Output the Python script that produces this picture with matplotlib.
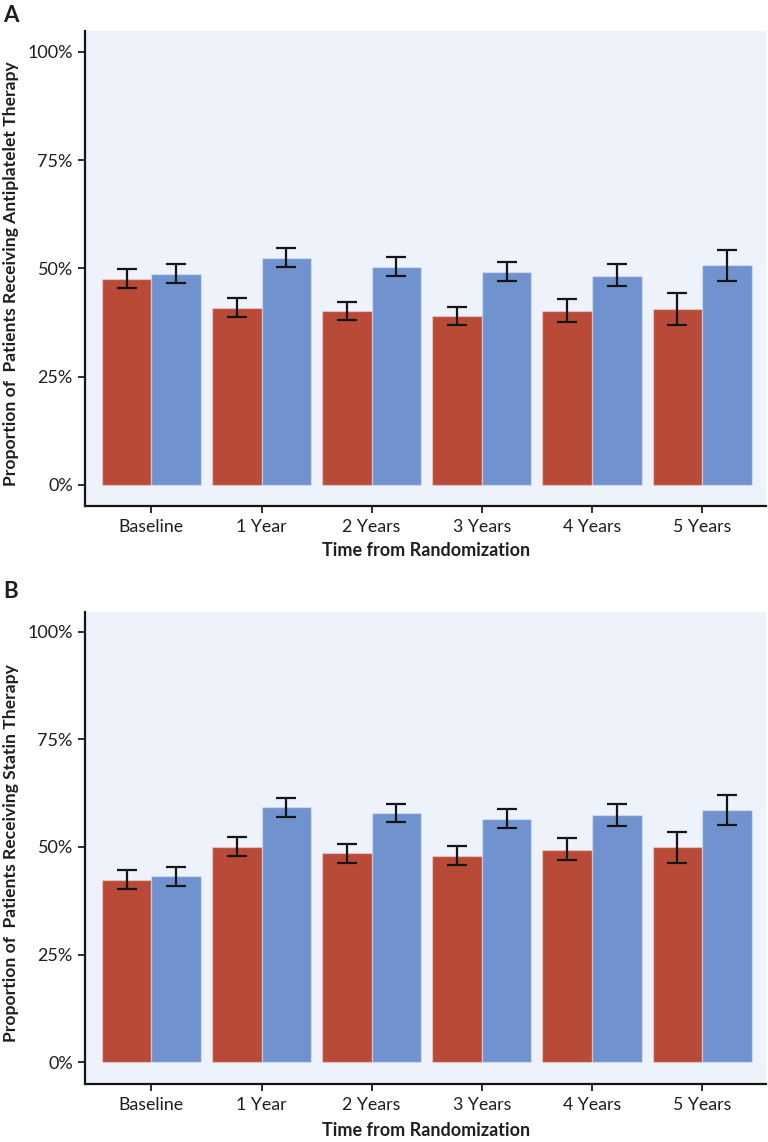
import matplotlib
matplotlib.use("Agg")
import matplotlib.pyplot as plt
import numpy as np

plt.rcParams["font.family"] = ["Lato", "DejaVu Sans"]

# 时间点
categories = ["Baseline", "1 Year", "2 Years", "3 Years", "4 Years", "5 Years"]

# A: antiplatelet (%), error bar lower / upper bounds
anti_red = [47.6, 40.9, 40.1, 39.0, 40.2, 40.5]
anti_red_lo = [45.4, 38.8, 38.1, 36.9, 37.7, 37.0]
anti_red_hi = [49.9, 43.2, 42.3, 41.1, 42.8, 44.2]
anti_blue = [48.7, 52.3, 50.2, 49.2, 48.3, 50.7]
anti_blue_lo = [46.5, 50.3, 48.2, 47.0, 45.8, 47.1]
anti_blue_hi = [50.9, 54.6, 52.6, 51.5, 51.0, 54.3]

# B: statin (%)
stat_red = [42.3, 50.0, 48.5, 47.9, 49.4, 49.9]
stat_red_lo = [40.3, 47.9, 46.4, 45.8, 46.9, 46.4]
stat_red_hi = [44.6, 52.3, 50.8, 50.2, 52.1, 53.5]
stat_blue = [43.2, 59.2, 57.8, 56.6, 57.4, 58.6]
stat_blue_lo = [41.0, 57.0, 55.7, 54.4, 54.8, 55.1]
stat_blue_hi = [45.4, 61.3, 60.0, 58.8, 59.9, 62.1]

yticks = [0, 25, 50, 75, 100]
ytick_labels = ["0%", "25%", "50%", "75%", "100%"]

RED = "#BA4A38"
BLUE = "#7093CF"
BG = "#EEF2FA"
INK = "#1E1E1E"

W, H = 768, 1142
fig = plt.figure(figsize=(W / 100, H / 100), dpi=100)


def px_axes(left, top, right, bottom):
    return fig.add_axes([left / W, 1 - bottom / H, (right - left) / W, (bottom - top) / H])


def draw_panel(ax, red, red_lo, red_hi, blue, blue_lo, blue_hi, ylabel, ylim, xlab_y):
    x = np.arange(len(categories))
    w = 0.45
    red = np.array(red)
    blue = np.array(blue)
    red_err = [red - np.array(red_lo), np.array(red_hi) - red]
    blue_err = [blue - np.array(blue_lo), np.array(blue_hi) - blue]
    ax.bar(x - w / 2, red, w, color=RED, edgecolor=(1, 1, 1, 0.35), linewidth=1, zorder=2)
    ax.bar(x + w / 2, blue, w, color=BLUE, edgecolor=(1, 1, 1, 0.35), linewidth=1, zorder=2)
    for xs, ys, err in [(x - w / 2, red, red_err), (x + w / 2, blue, blue_err)]:
        ax.errorbar(xs, ys, yerr=err, fmt="none", ecolor="#151515",
                    elinewidth=1.6, capsize=7.4, capthick=1.6, zorder=3)

    ax.set_facecolor(BG)
    ax.set_xlim(-0.6, 5.58)
    ax.set_ylim(*ylim)
    ax.set_xticks(x)
    ax.set_xticklabels(categories, fontsize=12.8, color=INK)
    ax.set_yticks(yticks)
    ax.set_yticklabels(ytick_labels, fontsize=13, color=INK)
    ax.tick_params(axis="both", length=5, width=1.3, color=INK, pad=4)
    for s in ["top", "right"]:
        ax.spines[s].set_visible(False)
    for s in ["left", "bottom"]:
        ax.spines[s].set_linewidth(1.6)
        ax.spines[s].set_color("#151515")

    ax.set_ylabel(ylabel, fontsize=12.6, fontweight="bold", color=INK)
    ax.yaxis.set_label_coords(-0.097, 0.49)
    ax.set_xlabel("Time from Randomization", fontsize=13, fontweight="bold", color=INK)
    ax.xaxis.set_label_coords(0.5, xlab_y)


axA = px_axes(85.3, 31, 766, 506)
draw_panel(axA, anti_red, anti_red_lo, anti_red_hi, anti_blue, anti_blue_lo, anti_blue_hi,
           "Proportion of  Patients Receiving Antiplatelet Therapy", (-4.9, 104.8), -0.076)

axB = px_axes(85.3, 611.7, 766, 1084)
draw_panel(axB, stat_red, stat_red_lo, stat_red_hi, stat_blue, stat_blue_lo, stat_blue_hi,
           "Proportion of  Patients Receiving Statin Therapy", (-5.0, 104.6), -0.08)

fig.text(3 / W, 1 - 15 / H, "A", fontsize=16, fontweight="bold", va="center", ha="left", color=INK)
fig.text(3 / W, 1 - 592 / H, "B", fontsize=16, fontweight="bold", va="center", ha="left", color=INK)

fig.savefig("out.png", dpi=100)
plt.close(fig)
